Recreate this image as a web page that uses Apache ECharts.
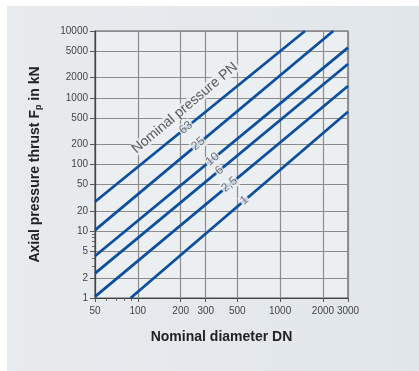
<!DOCTYPE html>
<html><head><meta charset="utf-8">
<script src="https://cdn.jsdelivr.net/npm/echarts@6/dist/echarts.min.js"></script>
<style>
html,body{margin:0;padding:0;background:#fff;width:419px;height:371px;overflow:hidden}
#panel{position:absolute;left:7px;top:6px;width:412px;height:365px;background:linear-gradient(90deg,#e8ebee,#e1e6ea)}
#c{position:absolute;left:0;top:0;width:419px;height:371px}
</style></head><body>
<div id="panel"></div>
<div id="c"></div>
<script>
// ---- data ----
const xTicks = [50, 100, 200, 300, 500, 1000, 2000, 3000];
const yTicks = [1, 2, 5, 10, 20, 50, 100, 200, 500, 1000, 2000, 5000, 10000];
const xMinor = [60, 70, 80, 90];
const yMinor = [3, 4, 6, 7, 8, 9];
const pnNames = ['63', '25', '10', '6', '2,5', '1'];
const pnDN = [[50, 1496], [50, 2364], [50, 3000], [50, 3000], [50, 3000], [89, 3000]];
const pnF  = [[27.7, 10000], [10.4, 10000], [4.26, 5620], [2.34, 3200], [1.05, 1500], [1, 618]];
const labelDN = [218, 266, 335, 374, 441, 562];
const titleDN = 214, titleF = 702;
const titleText = 'Nominal pressure PN';

// ---- build ----
const L = Math.log10;
function fAt(i, dn) {
  const a = L(pnF[i][0]), b = L(pnF[i][1]);
  const t = (L(dn) - L(pnDN[i][0])) / (L(pnDN[i][1]) - L(pnDN[i][0]));
  return Math.pow(10, a + t * (b - a));
}
const plotBg = '#eceff2';
const blue = '#0b4f9e';
const font = '"Liberation Sans", Arial, sans-serif';

const series = pnNames.map((n, i) => ({
  type: 'line', name: 'PN ' + n, xAxisIndex: 0, yAxisIndex: 0,
  data: [[pnDN[i][0], pnF[i][0]], [pnDN[i][1], pnF[i][1]]],
  showSymbol: false, symbol: 'none', silent: true, z: 2,
  lineStyle: { color: blue, width: 2.8 }
}));
const labelData = pnNames.map((n, i) => ({
  value: [labelDN[i], fAt(i, labelDN[i]), n]
}));
labelData.push({
  value: [titleDN, titleF, titleText],
  label: { fontSize: 14, color: '#333', padding: [0, 2] }
});
series.push({
  type: 'scatter', xAxisIndex: 0, yAxisIndex: 0, symbolSize: 0, z: 5, silent: true,
  data: labelData,
  label: {
    show: true, position: 'inside', rotate: 40,
    formatter: p => p.value[2],
    fontFamily: font, fontSize: 12, color: '#555',
    backgroundColor: plotBg, padding: [0, 1], lineHeight: 13
  }
});

const tickStyle = { color: '#444', fontFamily: font, fontSize: 10, formatter: v => String(Math.round(v)) };
const chart = echarts.init(document.getElementById('c'), null, { renderer: 'canvas' });
chart.setOption({
  animation: false,
  backgroundColor: 'transparent',
  grid: { left: 95, right: 71, top: 31, bottom: 73, show: true, backgroundColor: plotBg, borderColor: '#555', borderWidth: 1.2 },
  xAxis: [{
    type: 'log', logBase: 10, min: 50, max: 3000, position: 'bottom',
    name: 'Nominal diameter DN', nameLocation: 'middle', nameGap: 32,
    nameTextStyle: { fontFamily: font, fontSize: 14, fontWeight: 'bold', color: '#222' },
    axisLine: { show: true, lineStyle: { color: '#444', width: 1.2 } },
    axisTick: { show: true, length: 4, customValues: xTicks, lineStyle: { color: '#555' } },
    axisLabel: { customValues: xTicks, margin: 8, ...tickStyle },
    splitLine: { show: true, lineStyle: { color: '#8c8c8c', width: 1.2 } }
  }, {
    type: 'log', logBase: 10, min: 50, max: 3000, position: 'bottom',
    axisLine: { show: false },
    axisTick: { show: true, length: 3, customValues: xMinor, lineStyle: { color: '#666' } },
    axisLabel: { show: false }, splitLine: { show: false }
  }],
  yAxis: [{
    type: 'log', logBase: 10, min: 1, max: 10000, position: 'left',
    name: 'Axial pressure thrust F{sub|p} in kN', nameLocation: 'middle', nameGap: 52,
    nameTextStyle: { fontFamily: font, fontSize: 14, fontWeight: 'bold', color: '#222',
      rich: { sub: { fontFamily: font, fontSize: 9, fontWeight: 'bold', color: '#222', verticalAlign: 'bottom', padding: [6, 0, 0, 0] } } },
    axisLine: { show: true, lineStyle: { color: '#444', width: 1.2 } },
    axisTick: { show: true, length: 5, customValues: yTicks, lineStyle: { color: '#555' } },
    axisLabel: { customValues: yTicks, margin: 7, ...tickStyle },
    splitLine: { show: true, lineStyle: { color: '#8c8c8c', width: 1.2 } }
  }, {
    type: 'log', logBase: 10, min: 1, max: 10000, position: 'left',
    axisLine: { show: false },
    axisTick: { show: true, length: 3, customValues: yMinor, lineStyle: { color: '#666' } },
    axisLabel: { show: false }, splitLine: { show: false }
  }],
  series: series
});
</script>
</body></html>
